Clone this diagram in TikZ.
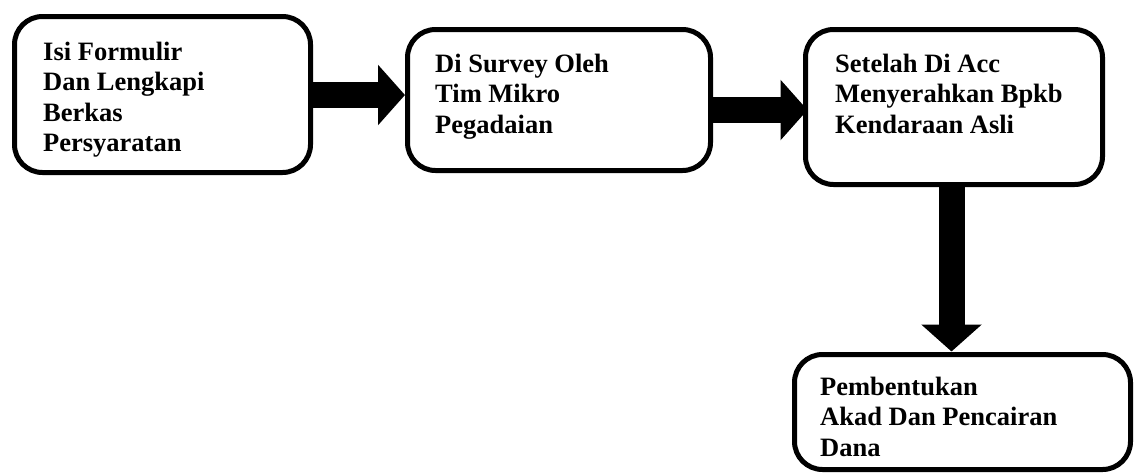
\documentclass[tikz,border=0pt]{standalone}
\usepackage{fontspec}
\setmainfont{Liberation Serif}
\usetikzlibrary{arrows.meta}
\tikzset{
  box/.style={draw, line width=5pt, rounded corners=28pt, inner sep=0pt},
  boxtext/.style={anchor=base west, inner sep=0pt, font=\fontsize{26.5}{30.5}\selectfont\bfseries},
  bigarrow/.style={line width=26pt, -{Triangle[width=59pt,length=27pt]}}
}
\begin{document}
\begin{tikzpicture}[x=1pt,y=-1pt]
\useasboundingbox (0,0) rectangle (1135,472);
% boxes
\node[box, minimum width=296pt, minimum height=156pt] (b1) at (162.5,94.5) {};
\node[box, minimum width=303pt, minimum height=141pt] (b2) at (559,100) {};
\node[box, minimum width=297pt, minimum height=155pt] (b3) at (954,107) {};
\node[box, minimum width=336pt, minimum height=115pt] (b4) at (962.5,412) {};
% texts
\node[boxtext] (t1) at (43,60) {\begin{tabular}[t]{@{}l@{}}Isi Formulir\\Dan Lengkapi\\Berkas\\Persyaratan\end{tabular}};
\node[boxtext] (t2) at (435,72) {\begin{tabular}[t]{@{}l@{}}Di Survey Oleh\\Tim Mikro\\Pegadaian\end{tabular}};
\node[boxtext] (t3) at (835,72) {\begin{tabular}[t]{@{}l@{}}Setelah Di Acc\\Menyerahkan Bpkb\\Kendaraan Asli\end{tabular}};
\node[boxtext] (t4) at (820,395) {\begin{tabular}[t]{@{}l@{}}Pembentukan\\Akad Dan Pencairan\\Dana\end{tabular}};
% arrows
\coordinate (a1s) at (310.5,95);
\coordinate (a2s) at (710.5,110);
\coordinate (a3s) at (951.5,184.5);
\draw[bigarrow] (a1s) -- (a1s -| b2.west);
\draw[bigarrow] (a2s) -- ([xshift=4.5pt]a2s -| b3.west);
\draw[bigarrow] (a3s) -- ([yshift=0.5pt]a3s |- b4.north);
\end{tikzpicture}
\end{document}
